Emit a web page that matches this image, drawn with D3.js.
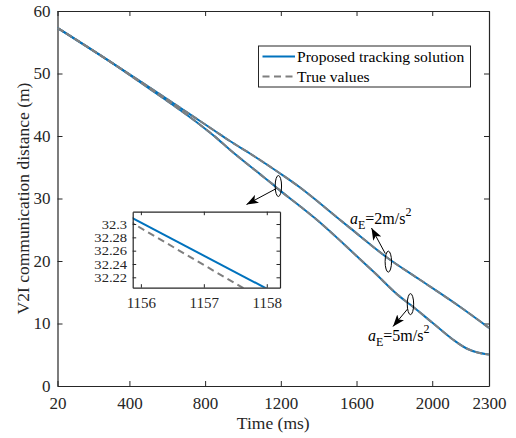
<!DOCTYPE html>
<html>
<head>
<meta charset="utf-8">
<script src="https://cdn.jsdelivr.net/npm/d3@7"></script>
<style>
  html, body { margin: 0; padding: 0; background: #fff; }
  svg { display: block; font-family: "Liberation Serif", "Times New Roman", serif; }
  .axis path, .axis line { stroke: #262626; }
  .axis text { fill: #262626; }
</style>
</head>
<body>
<svg id="chart" width="516" height="438"></svg>
<script>
// Time samples (ms) and V2I distance (m) for the two acceleration cases
const timeMs = [20, 288, 500, 773, 852, 931, 1037, 1187, 1300, 1400, 1512, 1565, 1768, 1935, 2150, 2300];
const distA2 = [57.3, 52.1, 47.9, 42.4, 40.8, 39.2, 37.2, 34.2, 31.8, 29.4, 26.6, 25.3, 20.4, 17.0, 12.6, 9.3];

const timeMsB = [20, 288, 500, 773, 852, 931, 1090, 1156, 1187, 1300, 1390, 1512, 1565, 1700, 1829, 1885, 2006, 2111, 2182, 2235, 2300];
const distA5 = [57.3, 52.1, 47.7, 41.8, 39.9, 37.8, 33.9, 32.3, 31.5, 28.8, 26.6, 23.3, 21.8, 18.0, 14.3, 13.0, 10.0, 7.4, 6.0, 5.4, 5.05];

// Zoomed window around t = 1157 ms (aE = 5 m/s^2 case)
const zoomTime = [1155.8, 1158.2];
const zoomTrack = [32.312, 32.193];
const zoomTimeTrue = [1155.8, 1158.2];
const zoomTrue = [32.305, 32.172];

const xTicks = [20, 400, 800, 1200, 1600, 2000, 2300];
const yTicks = [0, 10, 20, 30, 40, 50, 60];
const zoomXTicks = [1156, 1157, 1158];
const zoomYTicks = [32.22, 32.24, 32.26, 32.28, 32.3];

const legendLabels = ["Proposed tracking solution", "True values"];

const BLUE = "#0072BD";
const GRAY = "#7f7f7f";
const INK = "#262626";
const SERIF = "Liberation Serif";

const svg = d3.select("#chart");

// Main axes frame
const plot = { left: 57.5, right: 489, top: 11, bottom: 386 };
const x = d3.scaleLinear().domain([20, 2300]).range([plot.left, plot.right]);
const y = d3.scaleLinear().domain([0, 60]).range([plot.bottom, plot.top]);

const tickLen = 5;

svg.append("g").attr("class", "axis")
  .attr("transform", `translate(0,${plot.bottom})`)
  .call(d3.axisBottom(x).tickValues(xTicks).tickSize(-tickLen).tickPadding(11).tickSizeOuter(0).tickFormat(d3.format("d")))
  .call(g => g.selectAll("text").attr("font-size", 17).attr("font-family", SERIF));
svg.append("g").attr("class", "axis")
  .attr("transform", `translate(0,${plot.top})`)
  .call(d3.axisTop(x).tickValues(xTicks).tickSize(-tickLen).tickFormat("").tickSizeOuter(0));
svg.append("g").attr("class", "axis")
  .attr("transform", `translate(${plot.left},0)`)
  .call(d3.axisLeft(y).tickValues(yTicks).tickSize(-tickLen).tickPadding(7).tickSizeOuter(0))
  .call(g => g.selectAll("text").attr("font-size", 17).attr("font-family", SERIF));
svg.append("g").attr("class", "axis")
  .attr("transform", `translate(${plot.right},0)`)
  .call(d3.axisRight(y).tickValues(yTicks).tickSize(-tickLen).tickFormat("").tickSizeOuter(0));
svg.selectAll(".axis .domain").attr("stroke-width", 1.2);

// Axis titles
svg.append("text")
  .attr("x", (plot.left + plot.right) / 2).attr("y", 429)
  .attr("text-anchor", "middle").attr("font-size", 17.5).attr("fill", INK)
  .text("Time (ms)");
svg.append("text")
  .attr("transform", `translate(23,${(plot.top + plot.bottom) / 2}) rotate(-90)`)
  .attr("text-anchor", "middle").attr("dominant-baseline", "central")
  .attr("font-size", 17.5).attr("fill", INK)
  .text("V2I communication distance (m)");

// Curves: tracking estimate (solid blue) with true values (dashed gray) on top
const line = d3.line().x(d => x(d[0])).y(d => y(d[1])).curve(d3.curveMonotoneX);
const seriesA2 = timeMs.map((t, i) => [t, distA2[i]]);
const seriesA5 = timeMsB.map((t, i) => [t, distA5[i]]);

const curves = svg.append("g");
[seriesA2, seriesA5].forEach(s => {
  curves.append("path").datum(s).attr("d", line)
    .attr("fill", "none").attr("stroke", BLUE).attr("stroke-width", 2);
});
[seriesA2, seriesA5].forEach(s => {
  curves.append("path").datum(s).attr("d", line)
    .attr("fill", "none").attr("stroke", GRAY).attr("stroke-width", 2)
    .attr("stroke-dasharray", "7,3");
});

// Legend
const lg = svg.append("g");
lg.append("rect").attr("x", 258.5).attr("y", 46).attr("width", 212).attr("height", 41)
  .attr("fill", "#fff").attr("stroke", INK).attr("stroke-width", 1);
lg.append("line").attr("x1", 262.5).attr("x2", 295).attr("y1", 56.5).attr("y2", 56.5)
  .attr("stroke", BLUE).attr("stroke-width", 2);
lg.append("line").attr("x1", 262.5).attr("x2", 295).attr("y1", 76.5).attr("y2", 76.5)
  .attr("stroke", GRAY).attr("stroke-width", 2).attr("stroke-dasharray", "7,4.5");
lg.selectAll("text.lbl").data(legendLabels).join("text")
  .attr("class", "lbl")
  .attr("x", 297).attr("y", (d, i) => 61.5 + i * 20)
  .attr("font-size", 15.6).attr("fill", "#000")
  .text(d => d);

// Arrow marker
const defs = svg.append("defs");
defs.append("marker").attr("id", "arrow")
  .attr("markerUnits", "userSpaceOnUse")
  .attr("viewBox", "0 -5 12 10").attr("refX", 12).attr("refY", 0)
  .attr("markerWidth", 12).attr("markerHeight", 10).attr("orient", "auto")
  .append("path").attr("d", "M0,-4.5 L12,0 L0,4.5 L3,0 Z").attr("fill", "#000");

const notes = svg.append("g");
function ellipse(cx, cy) {
  notes.append("ellipse").attr("cx", cx).attr("cy", cy).attr("rx", 3.2).attr("ry", 10.5)
    .attr("fill", "none").attr("stroke", "#000").attr("stroke-width", 1);
}
function arrow(x1, y1, x2, y2) {
  notes.append("line").attr("x1", x1).attr("y1", y1).attr("x2", x2).attr("y2", y2)
    .attr("stroke", "#000").attr("stroke-width", 1).attr("marker-end", "url(#arrow)");
}
// ellipse around curves at t ~ 1190 ms pointing to zoom window
ellipse(x(1187), y(32.0));
arrow(x(1187) - 2, y(32.0) + 2.5, 246.5, 204.5);
// aE = 2 m/s^2 annotation
ellipse(x(1768), y(19.9));
arrow(x(1768) - 3, y(19.9) - 8, 371.5, 228);
// aE = 5 m/s^2 annotation
ellipse(x(1885), y(13.1));
arrow(x(1885) - 3, y(13.1) + 5, 393, 326.5);

function accelLabel(xPos, yPos, val) {
  const t = notes.append("text").attr("x", xPos).attr("y", yPos)
    .attr("font-size", 16).attr("fill", "#000");
  t.append("tspan").attr("font-style", "italic").text("a");
  t.append("tspan").attr("font-size", 12).attr("dy", 5).text("E");
  t.append("tspan").attr("dy", -5).text(`=${val}m/s`);
  t.append("tspan").attr("font-size", 12).attr("dy", -8).text("2");
}
accelLabel(350, 223.5, 2);
accelLabel(368, 341, 5);

// Zoom window
const inset = { left: 132.7, right: 280, top: 211.7, bottom: 287.7 };
const xi = d3.scaleLinear().domain([1155.87, 1158.21]).range([inset.left, inset.right]);
const yi = d3.scaleLinear().domain([32.2044, 32.3185]).range([inset.bottom, inset.top]);

const ig = svg.append("g");
ig.append("rect").attr("x", inset.left).attr("y", inset.top)
  .attr("width", inset.right - inset.left).attr("height", inset.bottom - inset.top)
  .attr("fill", "#fff");
defs.append("clipPath").attr("id", "insetClip").append("rect")
  .attr("x", inset.left).attr("y", inset.top)
  .attr("width", inset.right - inset.left).attr("height", inset.bottom - inset.top);

const iline = d3.line().x(d => xi(d[0])).y(d => yi(d[1]));
const ic = ig.append("g").attr("clip-path", "url(#insetClip)");
ic.append("path").datum(zoomTime.map((t, i) => [t, zoomTrack[i]])).attr("d", iline)
  .attr("fill", "none").attr("stroke", BLUE).attr("stroke-width", 2);
ic.append("path").datum(zoomTimeTrue.map((t, i) => [t, zoomTrue[i]])).attr("d", iline)
  .attr("fill", "none").attr("stroke", GRAY).attr("stroke-width", 2).attr("stroke-dasharray", "7,4.5");

const itl = 3.5;
ig.append("g").attr("class", "axis")
  .attr("transform", `translate(0,${inset.bottom})`)
  .call(d3.axisBottom(xi).tickValues(zoomXTicks).tickSize(-itl).tickPadding(10).tickSizeOuter(0).tickFormat(d3.format("d")))
  .call(g => g.selectAll("text").attr("font-size", 15).attr("font-family", SERIF));
ig.append("g").attr("class", "axis")
  .attr("transform", `translate(0,${inset.top})`)
  .call(d3.axisTop(xi).tickValues(zoomXTicks).tickSize(-itl).tickFormat("").tickSizeOuter(0));
ig.append("g").attr("class", "axis")
  .attr("transform", `translate(${inset.left},0)`)
  .call(d3.axisLeft(yi).tickValues(zoomYTicks).tickSize(-itl).tickPadding(5).tickSizeOuter(0)
    .tickFormat(d => String(+d.toFixed(2))))
  .call(g => g.selectAll("text").attr("font-size", 13).attr("font-family", SERIF)
    .attr("transform", "scale(1.12,1)"));
ig.append("g").attr("class", "axis")
  .attr("transform", `translate(${inset.right},0)`)
  .call(d3.axisRight(yi).tickValues(zoomYTicks).tickSize(-itl).tickFormat("").tickSizeOuter(0));
ig.selectAll(".axis .domain").attr("stroke-width", 1.2);
</script>
</body>
</html>
